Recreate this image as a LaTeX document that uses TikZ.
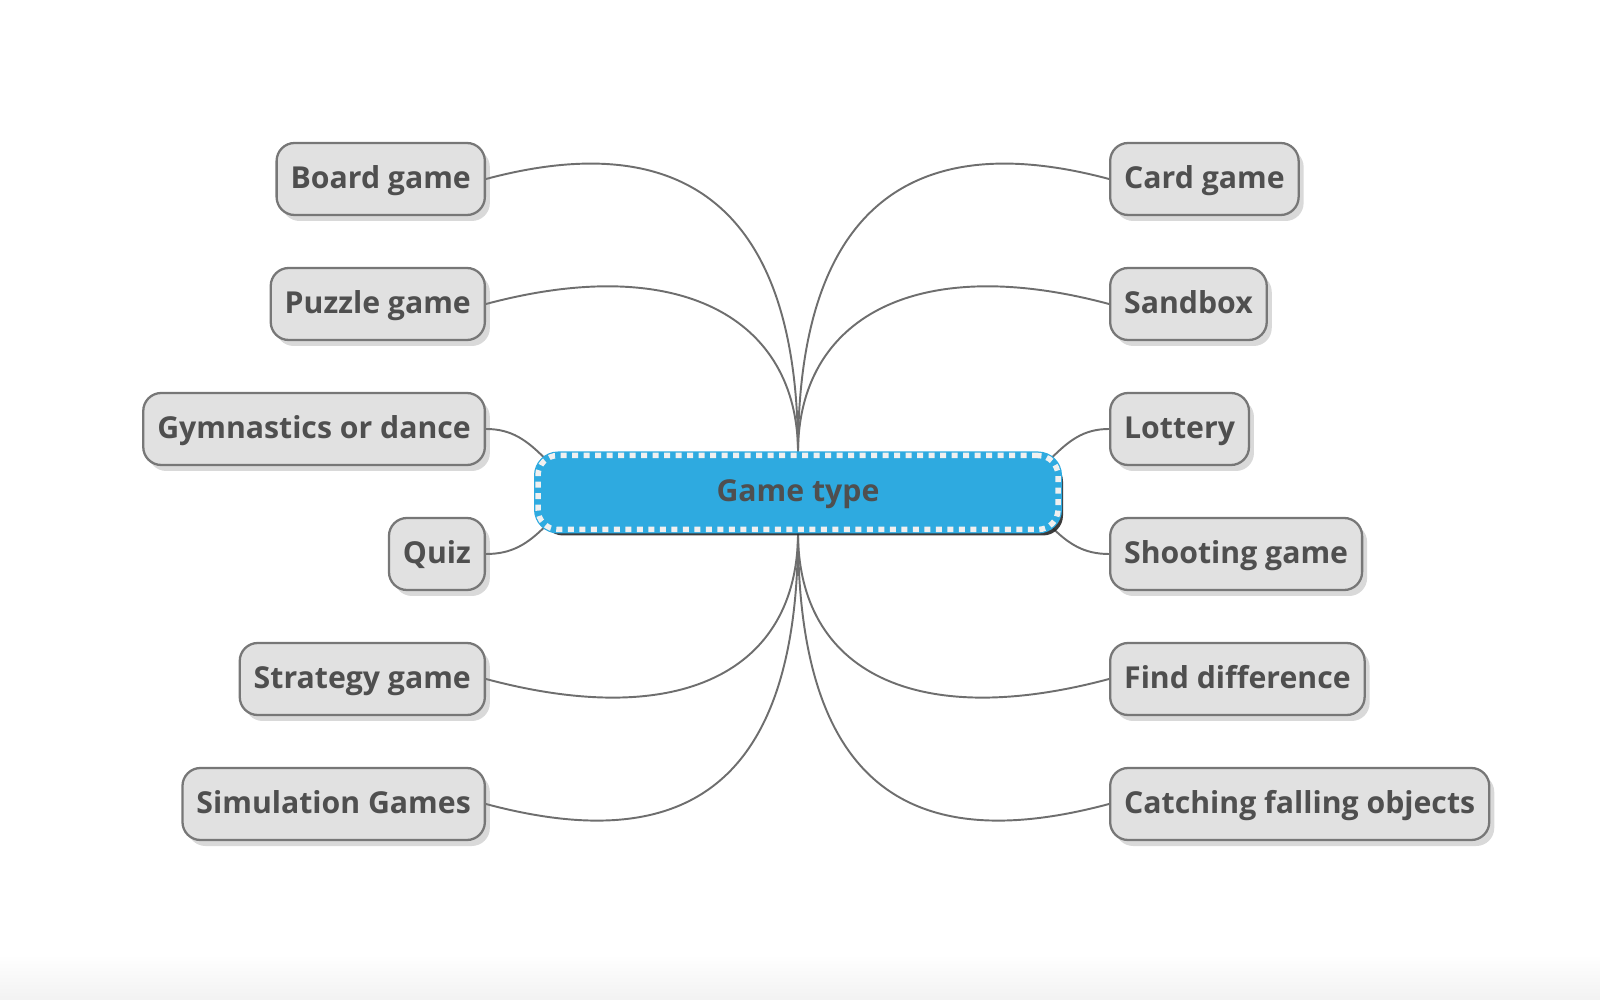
\documentclass[tikz,border=0pt]{standalone}
\usepackage{fontspec}
\setmainfont{Open Sans}
\usetikzlibrary{shadows,backgrounds}

\definecolor{leafgray}{HTML}{E1E1E1}
\definecolor{edgegray}{HTML}{777777}
\definecolor{inkgray}{HTML}{4F4F4F}
\definecolor{topicblue}{HTML}{2EAAE0}
\definecolor{linkgray}{HTML}{6E6E6E}

\begin{document}
\begin{tikzpicture}[
    leaf/.style={rectangle, draw=edgegray, fill=leafgray, rounded corners=1.8mm, line width=0.65pt, minimum height=0.72cm, inner xsep=1.4mm, text height=0.75em, text depth=0.22em, font=\fontsize{8.6}{10}\selectfont\bfseries, text=inkgray, drop shadow={shadow xshift=0.5mm, shadow yshift=-0.6mm, opacity=0.3}},
    topic/.style={rectangle, drop shadow={shadow xshift=0.5mm, shadow yshift=-0.6mm, opacity=0.9, fill=black!85}, preaction={draw=topicblue, solid, line width=0.8mm}, fill=topicblue, draw=white!94!black, line width=0.55mm, dash pattern=on 0.6mm off 0.55mm, rounded corners=2mm, minimum width=5.2cm, minimum height=0.74cm, text height=0.75em, text depth=0.22em, font=\fontsize{8.6}{10}\selectfont\bfseries, text=inkgray},
    link/.style={draw=linkgray, line width=0.55pt}
]
\useasboundingbox (0,0) rectangle (16,-10);

% Central topic
\node[topic] (gt) at (7.98, -4.925) {Game type};

% Left column (east edge at x = 4.86)
\node[leaf, anchor=east] (board) at (4.86, -1.79) {Board game};
\node[leaf, anchor=east] (puzzle) at (4.86, -3.04) {Puzzle game};
\node[leaf, anchor=east] (gym) at (4.86, -4.29) {Gymnastics or dance};
\node[leaf, anchor=east] (quiz) at (4.86, -5.54) {Quiz};
\node[leaf, anchor=east] (strategy) at (4.86, -6.79) {Strategy game};
\node[leaf, anchor=east] (simulation) at (4.86, -8.04) {Simulation Games};

% Right column (west edge at x = 11.09)
\node[leaf, anchor=west] (card) at (11.09, -1.79) {Card game};
\node[leaf, anchor=west] (sandbox) at (11.09, -3.04) {Sandbox};
\node[leaf, anchor=west] (lottery) at (11.09, -4.29) {Lottery};
\node[leaf, anchor=west] (shooting) at (11.09, -5.54) {Shooting game};
\node[leaf, anchor=west] (finddiff) at (11.09, -6.79) {Find difference};
\node[leaf, anchor=west] (catching) at (11.09, -8.04) {Catching falling objects};

\begin{scope}[on background layer]
% Bottom fade
\shade[top color=white, bottom color=black!5] (0,-9.55) rectangle (16,-10);

% Links to the top of the topic
\draw[link] (board.east) .. controls +(15:2) and +(0,2.5) .. (gt.north);
\draw[link] (puzzle.east) .. controls +(15:2) and +(0,1.35) .. (gt.north);
\draw[link] (card.west) .. controls +(165:2) and +(0,2.5) .. (gt.north);
\draw[link] (sandbox.west) .. controls +(165:2) and +(0,1.35) .. (gt.north);

% Links to the corners
\draw[link] (gym.east) to[out=0, in=135] ([xshift=1mm, yshift=-0.6mm]gt.north west);
\draw[link] (quiz.east) to[out=0, in=-135] ([xshift=1mm, yshift=0.6mm]gt.south west);
\draw[link] (lottery.west) to[out=180, in=45] ([xshift=-1mm, yshift=-0.6mm]gt.north east);
\draw[link] (shooting.west) to[out=180, in=-45] ([xshift=-1mm, yshift=0.6mm]gt.south east);

% Links to the bottom of the topic
\draw[link] (strategy.east) .. controls +(-15:2) and +(0,-1.4) .. (gt.south);
\draw[link] (simulation.east) .. controls +(-15:2) and +(0,-2.6) .. (gt.south);
\draw[link] (finddiff.west) .. controls +(-165:2) and +(0,-1.4) .. (gt.south);
\draw[link] (catching.west) .. controls +(-165:2) and +(0,-2.6) .. (gt.south);
\end{scope}

\end{tikzpicture}
\end{document}
